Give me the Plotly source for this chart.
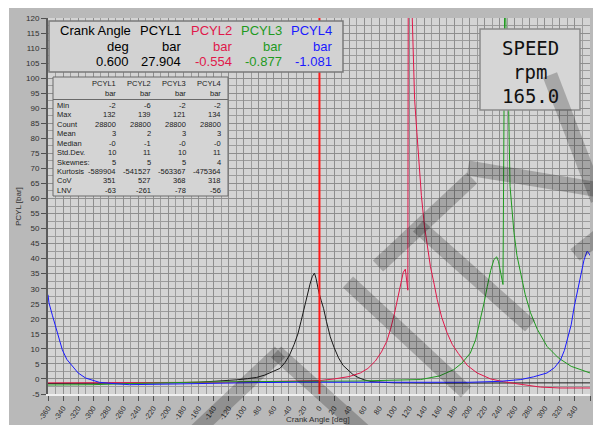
import plotly.graph_objects as go

# ---------------- data ----------------
pcyl1_deg = [-360, -300, -250, -200, -160, -130, -110, -95, -83, -72, -61, -52, -45, -39, -33, -28, -24,
             -20, -16, -12, -9, -6, -4, -2, 0, 3, 6, 10, 15, 20, 26, 32, 38, 45, 52, 60, 70, 85, 100,
             150, 200, 250, 300, 360]
pcyl1_bar = [-1.5, -1.5, -1.4, -1.3, -1.1, -0.7, -0.3, 0.1, 0.5, 1.3, 2.4, 3.5, 5.5, 8.0, 11.5, 15.0, 19.0,
             23.5, 28.0, 31.5, 34.0, 35.2, 33.5, 31.0, 28.6, 26.0, 23.5, 19.0, 14.0, 10.5, 7.0, 4.5, 3.0,
             1.5, 0.5, -0.3, -0.9, -1.2, -1.3, -1.4, -1.3, -1.3, -1.3, -1.3]

pcyl2_deg = [-360, -300, -200, -130, -80, -40, -10, 0, 20, 40, 55, 65, 75, 83, 90, 95, 100, 104, 108, 112,
             114.7, 116.5, 118, 118.6, 121, 123.3, 124, 125, 127, 130, 133, 136, 140, 144, 148, 153, 157,
             163, 170, 177, 185, 197, 210, 228, 245, 263, 280, 294, 320, 360]
pcyl2_bar = [-1.3, -1.3, -1.2, -1.1, -0.9, -0.7, -0.6, -0.55, 0.0, 0.8, 2.0, 3.5, 6.0, 9.0, 12.5, 16.5,
             21.5, 26.0, 31.0, 35.5, 36.5, 33.0, 29.5, 139, 139, 125, 118.8, 104, 93, 82, 71, 61, 51, 44,
             37.4, 31.5, 26.4, 20.5, 15.4, 11.5, 8.5, 4.5, 2.0, 0.0, -0.9, -1.6, -2.2, -2.7, -3.0, -3.0]

pcyl3_deg = [-360, -330, -300, -250, -200, -150, -100, -50, 0, 50, 100, 135, 160, 179, 190, 201, 208,
             214.7, 219, 223.6, 228, 232.4, 236, 238.5, 241.3, 244.4, 246.5, 248, 250, 252, 253.8, 256,
             259, 263, 268, 274, 281, 290, 303, 318, 335, 357, 360]
pcyl3_bar = [-2.0, -2.0, -1.9, -1.5, -1.2, -1.0, -0.9, -0.9, -0.88, -0.7, -0.4, -0.2, 1.0, 3.1, 5.3, 8.6,
             13.0, 19.7, 25.0, 30.8, 36.0, 39.7, 40.6, 39.0, 35.3, 31.4, 121, 121, 100, 89, 64, 56, 48.6,
             41.0, 35.3, 28.0, 22.0, 16.5, 10.8, 7.0, 4.2, 2.2, 2.0]

pcyl4_deg = [-360, -358.7, -354, -350, -345, -341, -335, -327.6, -320, -310, -300, -292, -270, -252, -200,
             -132, -80, -30, 0, 50, 100, 150, 200, 240, 268, 285, 303, 313, 321, 326, 330, 335, 339, 344,
             348, 352, 356, 358, 360]
pcyl4_bar = [28.0, 25.3, 21.0, 17.5, 13.0, 9.7, 6.5, 4.2, 2.0, 0.3, -0.5, -1.1, -1.6, -1.9, -1.7, -1.3,
             -1.2, -1.1, -1.08, -1.1, -1.2, -1.2, -1.1, -0.8, -0.2, 0.7, 2.0, 3.8, 6.4, 9.5, 13.0, 18.0,
             24.0, 30.0, 35.3, 39.5, 42.4, 42.0, 41.0]

channels = ["PCYL1", "PCYL2", "PCYL3", "PCYL4"]
channel_colors = ["#1a1a1a", "#e0184a", "#1f9a1f", "#1a1aff"]
cursor_angle = 0.600
cursor_values = ["27.904", "-0.554", "-0.877", "-1.081"]
speed_value = "165.0"

stat_names = ["Min", "Max", "Count", "Mean", "Median", "Std.Dev.", "Skewnes:", "Kurtosis", "CoV", "LNV"]
stat_pcyl1 = ["-2", "132", "28800", "3", "-0", "10", "5", "-589904", "351", "-63"]
stat_pcyl2 = ["-6", "139", "28800", "2", "-1", "11", "5", "-541527", "527", "-261"]
stat_pcyl3 = ["-2", "121", "28800", "3", "-0", "10", "5", "-563367", "368", "-78"]
stat_pcyl4 = ["-2", "134", "28800", "3", "-0", "11", "4", "-475364", "318", "-56"]

x_ticks = list(range(-360, 361, 20))
y_ticks = list(range(-5, 121, 5))

# ---------------- layout helpers ----------------
W, H = 593, 425
L, R, T, B = 48, 590, 18, 394


def px(x):
    return (x - L) / (R - L)


def py(y):
    return (B - y) / (B - T)


fig = go.Figure()
for name, col, xs, ys in zip(channels, channel_colors,
                             [pcyl1_deg, pcyl2_deg, pcyl3_deg, pcyl4_deg],
                             [pcyl1_bar, pcyl2_bar, pcyl3_bar, pcyl4_bar]):
    fig.add_trace(go.Scatter(x=xs, y=ys, mode="lines", name=name,
                             line=dict(color=col, width=1), hoverinfo="skip"))

shapes = []
# white strips at top and left of window
shapes.append(dict(type="rect", xref="paper", yref="paper", x0=px(-5), x1=px(600), y0=py(8), y1=py(-5),
                   fillcolor="white", line=dict(width=0), layer="below"))
shapes.append(dict(type="rect", xref="paper", yref="paper", x0=px(-5), x1=px(9), y0=py(430), y1=py(-5),
                   fillcolor="white", line=dict(width=0), layer="below"))
# cursor line
shapes.append(dict(type="line", xref="x", yref="paper", x0=cursor_angle, x1=cursor_angle, y0=0, y1=1,
                   line=dict(color="#ff1a1a", width=2), layer="above"))
# header box
shapes.append(dict(type="rect", xref="paper", yref="paper", x0=px(49), x1=px(343), y0=py(72), y1=py(21),
                   fillcolor="#d2d2d2", line=dict(color="#7a7a7a", width=1.5), layer="above"))
# stats table
shapes.append(dict(type="rect", xref="paper", yref="paper", x0=px(53), x1=px(228), y0=py(196), y1=py(77),
                   fillcolor="#d4d4d4", line=dict(color="#6a6a6a", width=1), layer="above"))
shapes.append(dict(type="line", xref="paper", yref="paper", x0=px(53), x1=px(228), y0=py(99.5), y1=py(99.5),
                   line=dict(color="#6a6a6a", width=1), layer="above"))
# speed box
shapes.append(dict(type="rect", xref="paper", yref="paper", x0=px(480), x1=px(580), y0=py(110), y1=py(29),
                   fillcolor="#d6d6d6", line=dict(color="#8a8a8a", width=1.5), layer="above"))

# watermark strokes (pixel positions of the big gray letters)
wm = [((276, 352), (365, 432)), ((348, 282), (466, 392)), ((378, 266), (472, 178)),
      ((418, 226), (530, 326)), ((468, 168), (600, 190)), ((550, 75), (598, 200)),
      ((575, 255), (600, 235)), ((195, 432), (280, 352))]
for (x0, y0), (x1, y1) in wm:
    shapes.append(dict(type="line", xref="paper", yref="paper", x0=px(x0), y0=py(y0), x1=px(x1), y1=py(y1),
                       line=dict(color="rgba(0,0,0,0.22)", width=15), layer="above"))

ann = []


def text(x, y, s, size, color="#000000", xanchor="right", family="Liberation Sans", angle=0):
    ann.append(dict(x=px(x), y=py(y), xref="paper", yref="paper", text=s, showarrow=False,
                    xanchor=xanchor, yanchor="middle", textangle=angle,
                    font=dict(size=size, color=color, family=family)))


# header
text(58, 31, "Crank Angle", 13, xanchor="left")
text(131, 46, "deg", 13)
text(131, 61, f"{cursor_angle:.3f}", 13)
for name, col, val, xr in zip(channels, channel_colors, cursor_values, [183, 234, 284, 334]):
    c = "#000000" if name == "PCYL1" else col
    text(xr, 31, name, 13, c)
    text(xr, 46, "bar", 13, c)
    text(xr, 61, val, 13, c)

# stats table
col_right = [118, 153, 188, 223]
for name, xr in zip(channels, col_right):
    text(xr, 83.5, name, 7.5, "#202020")
    text(xr, 93, "bar", 7.5, "#202020")
for i, nm in enumerate(stat_names):
    yy = 105.3 + i * 9.45
    text(55, yy, nm, 7.5, "#202020", xanchor="left")
    for vals, xr in zip([stat_pcyl1, stat_pcyl2, stat_pcyl3, stat_pcyl4], col_right):
        text(xr, yy, vals[i], 7.5, "#202020")

# speed box
for s, yy in zip(["SPEED", "rpm", speed_value], [48, 72, 96]):
    text(530, yy, s, 19, "#111111", xanchor="center", family="DejaVu Sans Mono")

# axis titles
text(18, 207, "PCYL [bar]", 8, "#303030", xanchor="center", angle=-90)
text(318, 420, "Crank Angle [deg]", 8, "#303030", xanchor="center")

fig.update_layout(
    width=W, height=H, margin=dict(l=L, r=W - R, t=T, b=H - B),
    paper_bgcolor="#b9b9b9", plot_bgcolor="#d4d4d4", showlegend=False,
    shapes=shapes, annotations=ann,
    xaxis=dict(range=[-360, 360], tickvals=x_ticks, ticktext=[str(v) for v in x_ticks],
               tickangle=-55, tickfont=dict(size=7.5, color="#303030", family="Liberation Sans"),
               ticks="outside", ticklen=5, tickcolor="#505050",
               showgrid=True, gridcolor="#8e8e8e", gridwidth=1,
               minor=dict(dtick=10, tick0=0, showgrid=True, gridcolor="#9c9c9c", gridwidth=1),
               showline=True, linecolor="#f0f0f0", linewidth=2, zeroline=False, fixedrange=True),
    yaxis=dict(range=[-5, 120], tickvals=y_ticks, ticktext=[str(v) for v in y_ticks],
               tickfont=dict(size=8, color="#303030", family="Liberation Sans"),
               ticks="outside", ticklen=5, tickcolor="#505050",
               showgrid=True, gridcolor="#8e8e8e", gridwidth=1,
               minor=dict(dtick=2.5, tick0=0, showgrid=True, gridcolor="#9c9c9c", gridwidth=1),
               showline=True, linecolor="#5a5a5a", linewidth=2, zeroline=False, fixedrange=True),
)

fig.write_html("out.html")
